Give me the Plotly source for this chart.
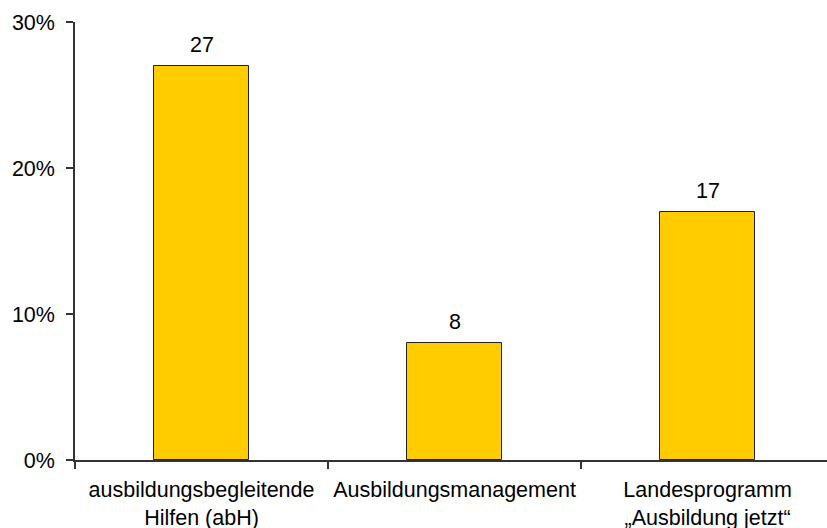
import plotly.graph_objects as go

categories = [
    "ausbildungsbegleitende<br>Hilfen (abH)",
    "Ausbildungsmanagement",
    "Landesprogramm<br>„Ausbildung jetzt“",
]
values = [27, 8, 17]
y_ticks = [0, 10, 20, 30]
y_tick_labels = ["0%", "10%", "20%", "30%"]

font = dict(family="Liberation Sans, Arial, sans-serif", size=21.5, color="#000000")

fig = go.Figure(
    go.Bar(
        x=categories,
        y=values,
        width=0.373,
        marker=dict(color="#FFCC00", line=dict(color="#222222", width=1)),
        cliponaxis=False,
    )
)

# value labels above each bar
for cat, val in zip(categories, values):
    fig.add_annotation(
        x=cat, y=val, text=str(val), showarrow=False,
        yanchor="bottom", yshift=7, font=font,
    )

fig.update_layout(
    width=827,
    height=528,
    margin=dict(l=75, r=0, t=22, b=68),
    paper_bgcolor="white",
    plot_bgcolor="white",
    font=font,
    showlegend=False,
    bargap=0,
)

fig.update_xaxes(
    type="category",
    range=[-0.5, 2.472],
    automargin=False,
    tickson="boundaries",
    ticks="outside",
    ticklen=7,
    tickwidth=1.5,
    tickcolor="#333333",
    ticklabelstandoff=9,
    showline=True,
    linecolor="#333333",
    linewidth=1.5,
    showgrid=False,
    zeroline=False,
)

fig.update_yaxes(
    range=[0, 30],
    automargin=False,
    tickmode="array",
    tickvals=y_ticks,
    ticktext=y_tick_labels,
    ticks="outside",
    ticklen=7,
    tickwidth=1.5,
    tickcolor="#333333",
    ticklabelstandoff=7,
    showline=True,
    linecolor="#333333",
    linewidth=1.5,
    showgrid=False,
    zeroline=False,
)

fig.write_html("out.html")
